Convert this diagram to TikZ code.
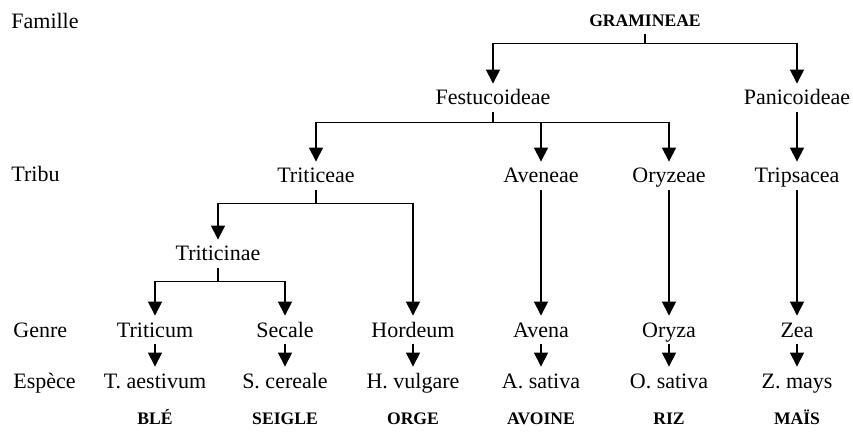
\documentclass[tikz,border=0pt]{standalone}
\usepackage{fontspec}
\setmainfont{Liberation Serif}
\usetikzlibrary{arrows.meta}

\begin{document}
\begin{tikzpicture}[x=0.5pt, y=-0.5pt,
    link/.style={draw, line width=0.6pt, -{Triangle[width=7pt,length=7pt]}}]
\tikzset{every node/.style={font=\fontsize{11}{13}\selectfont, text height=9pt,
                            text depth=2pt, inner sep=1.5pt, anchor=base}}
\tikzset{rank/.style={anchor=base west}}
\tikzset{common/.style={font=\fontsize{8.8}{10}\selectfont\bfseries}}
\useasboundingbox (0,0) rectangle (853,444);
% rangs
\node[rank] (famille) at (8,29) {Famille};
\node[rank] (tribu) at (8,182) {Tribu};
\node[rank] (genre) at (10,337) {Genre};
\node[rank] (espece) at (10,388) {Espèce};
% famille et sous-familles
\node[common] (gram) at (645,27) {GRAMINEAE};
\node (fest) at (493,105) {Festucoideae};
\node (pani) at (797,105) {Panicoideae};
% tribus
\node (triticeae) at (316,183) {Triticeae};
\node (aveneae) at (541,183) {Aveneae};
\node (oryzeae) at (669,183) {Oryzeae};
\node (tripsacea) at (797,183) {Tripsacea};
\node (triticinae) at (218,261) {Triticinae};
% genres
\node (triticum) at (155,337) {Triticum};
\node (secale) at (285,337) {Secale};
\node (hordeum) at (413,337) {Hordeum};
\node (avena) at (541,337) {Avena};
\node (oryza) at (669,337) {Oryza};
\node (zea) at (797,337) {Zea};
% especes
\node (aestivum) at (155,388) {T.\ aestivum};
\node (cereale) at (285,388) {S.\ cereale};
\node (vulgare) at (413,388) {H.\ vulgare};
\node (asativa) at (541,388) {A.\ sativa};
\node (osativa) at (669,388) {O.\ sativa};
\node (mays) at (797,388) {Z.\ mays};
% noms communs
\node[common] (ble) at (155,424) {BLÉ};
\node[common] (seigle) at (285,424) {SEIGLE};
\node[common] (orge) at (413,424) {ORGE};
\node[common] (avoine) at (541,424) {AVOINE};
\node[common] (riz) at (669,424) {RIZ};
\node[common] (mais) at (797,424) {MAÏS};

\foreach \b in {fest,pani}
    \draw[link] (gram.south) -- ++(0,9) -| (\b.north);
\foreach \b in {triticeae,aveneae,oryzeae}
    \draw[link] (fest.south) -- ++(0,10) -| (\b.north);
\foreach \b in {triticinae,hordeum}
    \draw[link] (triticeae.south) -- ++(0,13) -| (\b.north);
\foreach \b in {triticum,secale}
    \draw[link] (triticinae.south) -- ++(0,13) -| (\b.north);
\foreach \a/\b in {pani/tripsacea,aveneae/avena,oryzeae/oryza,tripsacea/zea,
                   triticum/aestivum,secale/cereale,hordeum/vulgare,
                   avena/asativa,oryza/osativa,zea/mays}
    \draw[link] (\a.south) -- (\b.north);
\end{tikzpicture}
\end{document}
